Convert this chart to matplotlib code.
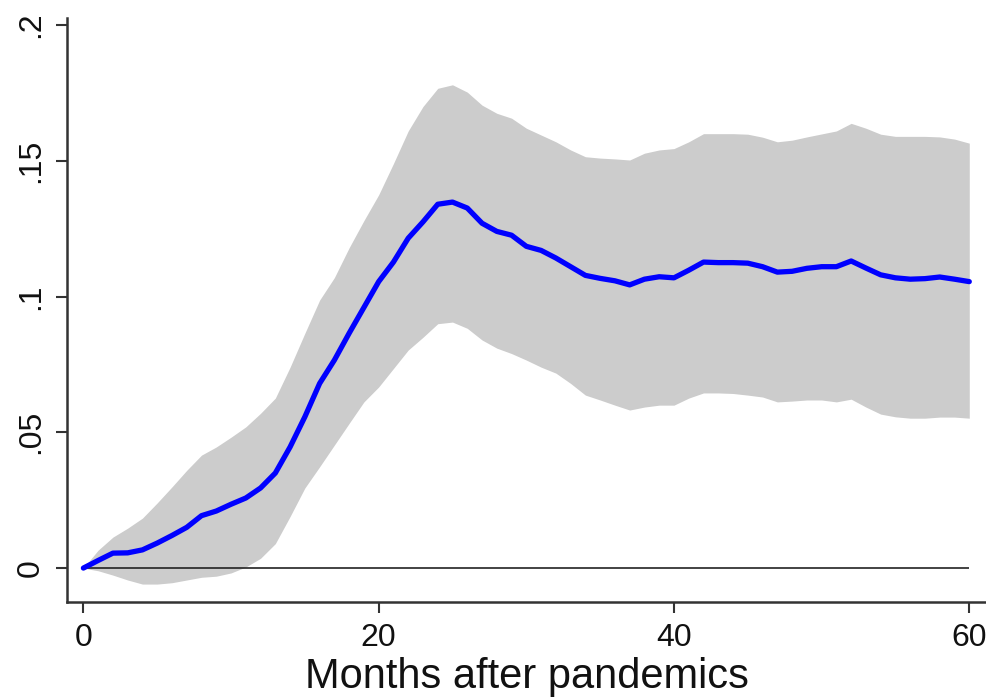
import numpy as np
import matplotlib
matplotlib.use("Agg")
import matplotlib.pyplot as plt
from matplotlib.ticker import FuncFormatter

plt.rcParams['font.family'] = ['Liberation Sans', 'DejaVu Sans']

# impulse response by month, with confidence band
months = np.arange(0, 61)

irf = [0.0, 0.0028, 0.0055, 0.0056, 0.0067, 0.0092, 0.0120, 0.0150, 0.0193, 0.0210,
       0.0235, 0.0258, 0.0295, 0.0350, 0.0446, 0.0557, 0.0680, 0.0766, 0.0865, 0.0960,
       0.1055, 0.1127, 0.1215, 0.1275, 0.1340, 0.1348, 0.1326, 0.1270, 0.1240, 0.1226,
       0.1185, 0.1170, 0.1142, 0.1110, 0.1078, 0.1067, 0.1058, 0.1043, 0.1064, 0.1073,
       0.1069, 0.1097, 0.1127, 0.1125, 0.1125, 0.1123, 0.1110, 0.1090, 0.1093, 0.1104,
       0.1110, 0.1110, 0.1131, 0.1105, 0.1080, 0.1069, 0.1064, 0.1066, 0.1072, 0.1064,
       0.1055]

upper = [0.0, 0.0066, 0.0114, 0.0147, 0.0184, 0.0240, 0.0299, 0.0360, 0.0416, 0.0446,
         0.0482, 0.0520, 0.0570, 0.0626, 0.0740, 0.0865, 0.0987, 0.1070, 0.1180, 0.1280,
         0.1375, 0.1490, 0.1610, 0.1700, 0.1767, 0.1780, 0.1753, 0.1705, 0.1675, 0.1657,
         0.1620, 0.1595, 0.1570, 0.1540, 0.1515, 0.1510, 0.1507, 0.1503, 0.1528, 0.1540,
         0.1545, 0.1570, 0.1600, 0.1600, 0.1600, 0.1598, 0.1587, 0.1570, 0.1576, 0.1588,
         0.1599, 0.1610, 0.1638, 0.1620, 0.1598, 0.1590, 0.1590, 0.1590, 0.1588, 0.1580,
         0.1565]

lower = [0.0, -0.0010, -0.0026, -0.0044, -0.0059, -0.0059, -0.0054, -0.0044, -0.0034, -0.0030,
         -0.0018, 0.0004, 0.0036, 0.0090, 0.0190, 0.0295, 0.0373, 0.0453, 0.0533, 0.0612,
         0.0667, 0.0735, 0.0803, 0.0850, 0.0900, 0.0906, 0.0883, 0.0840, 0.0810, 0.0790,
         0.0766, 0.0740, 0.0718, 0.0680, 0.0637, 0.0619, 0.0600, 0.0582, 0.0593, 0.0600,
         0.0600, 0.0626, 0.0645, 0.0645, 0.0643, 0.0637, 0.0630, 0.0612, 0.0615, 0.0619,
         0.0619, 0.0612, 0.0622, 0.0593, 0.0567, 0.0557, 0.0552, 0.0552, 0.0556, 0.0556,
         0.0552]

xticks = [0, 20, 40, 60]
yticks = [0, 0.05, 0.10, 0.15, 0.20]


def stata_fmt(v, pos):
    # Stata-style labels: no leading zero
    if abs(v) < 1e-12:
        return "0"
    s = ("%g" % round(v, 4))
    return s.replace("0.", ".", 1)


fig = plt.figure(figsize=(9.87, 6.98), dpi=100)
ax = fig.add_axes([67 / 987, 96 / 698, 920 / 987, 584 / 698])

ax.fill_between(months, lower, upper, color="#cccccc", linewidth=0, zorder=1)
ax.hlines(0, months[0], months[-1], color="#222222", linewidth=1.2, zorder=2)
ax.plot(months, irf, color="#0000ff", linewidth=3.8, solid_capstyle="round",
        solid_joinstyle="round", zorder=3)

ax.set_xlim(-1.11, 61.2)
ax.set_ylim(-0.0125, 0.2026)
ax.set_xticks(xticks)
ax.set_yticks(yticks)
ax.yaxis.set_major_formatter(FuncFormatter(stata_fmt))

for side in ["top", "right"]:
    ax.spines[side].set_visible(False)
for side in ["left", "bottom"]:
    ax.spines[side].set_linewidth(1.8)
    ax.spines[side].set_color("#333333")

ax.tick_params(axis="both", direction="out", length=8, width=1.5, color="#333333",
               labelcolor="#111111", labelsize=23, pad=7)
ax.tick_params(axis="y", labelrotation=90)
for lab in ax.get_yticklabels():
    lab.set_verticalalignment("center")

ax.set_xlabel("Months after pandemics", fontsize=30, labelpad=3, color="#111111")

fig.savefig("out.png", dpi=100)
